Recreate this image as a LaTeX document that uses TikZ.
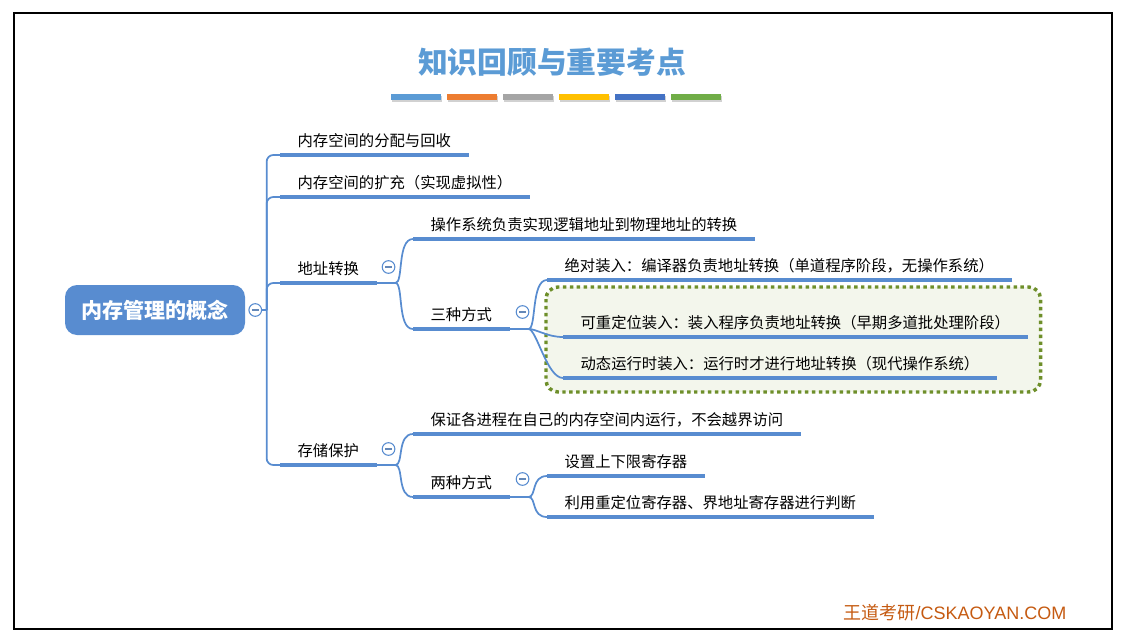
\documentclass[tikz,border=0pt]{standalone}
\usepackage{fontspec}
\setmainfont{Liberation Sans}
\newfontfamily\cjk{Noto Sans CJK SC}
\usetikzlibrary{backgrounds}

\definecolor{mmblue}{RGB}{88,140,208}
\definecolor{titleblue}{RGB}{91,155,213}
\definecolor{dotgreen}{RGB}{110,143,42}
\definecolor{boxfill}{RGB}{243,246,236}
\definecolor{footbrown}{RGB}{197,90,17}
\definecolor{barA}{RGB}{91,155,213}
\definecolor{barB}{RGB}{237,125,49}
\definecolor{barC}{RGB}{165,165,165}
\definecolor{barD}{RGB}{255,192,0}
\definecolor{barE}{RGB}{68,114,196}
\definecolor{barF}{RGB}{112,173,71}

\tikzset{
  topic/.style={anchor=south west, inner xsep=13pt, inner ysep=4pt, text height=9pt, text depth=2.5pt, font=\cjk\fontsize{11.5}{14}\selectfont},
  rootbox/.style={fill=mmblue, text=white, rounded corners=9pt, minimum width=135pt, minimum height=37.5pt, font=\cjk\bfseries\fontsize{15.8}{18}\selectfont},
  uline/.style={draw=mmblue, line width=3pt},
  conn/.style={draw=mmblue, line width=1.3pt},
  foldbtn/.style={circle, draw=mmblue, fill=white, line width=0.8pt, minimum size=9.5pt, inner sep=0pt,
    path picture={\draw[mmblue!70!gray, line width=0.8pt] ([xshift=-2.5pt]path picture bounding box.center) -- ([xshift=2.5pt]path picture bounding box.center);}},
  groupbox/.style={draw=dotgreen, fill=boxfill, line width=2.6pt, dash pattern=on 2.6pt off 2.6pt, rounded corners=9pt}
}

\begin{document}
\begin{tikzpicture}[x=0.75pt, y=-0.75pt]
\useasboundingbox (0,0) rectangle (1128,639);
\draw[line width=1.5pt] (14,13) rectangle (1112,629);

% title and colour bars
\node[font=\cjk\bfseries\fontsize{22.3}{26}\selectfont, text=titleblue] (title) at (552,62) {知识回顾与重要考点};
\foreach \c [count=\i from 0] in {barA,barB,barC,barD,barE,barF}{
  \fill[black!18] (392+56*\i,96) rectangle (442+56*\i,102);
  \fill[\c] (391+56*\i,94) rectangle (441+56*\i,100);
}

% root
\node[rootbox] (root) at (155,310) {内存管理的概念};

% first level
\node[topic] (t1) at (280,155) {内存空间的分配与回收};
\node[topic] (t2) at (280,197) {内存空间的扩充（实现虚拟性）};
\node[topic] (t3) at (280,283) {地址转换};
\node[topic] (t4) at (280,465) {存储保护};

% address translation
\node[topic] (t5) at (413,239) {操作系统负责实现逻辑地址到物理地址的转换};
\node[topic] (t6) at (413,329) {三种方式};
\node[topic] (t7) at (547,280) {绝对装入：编译器负责地址转换（单道程序阶段，无操作系统）};
\node[topic] (t8) at (563,337) {可重定位装入：装入程序负责地址转换（早期多道批处理阶段）};
\node[topic] (t9) at (563,378) {动态运行时装入：运行时才进行地址转换（现代操作系统）};

% protection
\node[topic] (t10) at (413,434) {保证各进程在自己的内存空间内运行，不会越界访问};
\node[topic] (t11) at (413,497) {两种方式};
\node[topic] (t12) at (547,476) {设置上下限寄存器};
\node[topic] (t13) at (547,517) {利用重定位寄存器、界地址寄存器进行判断};

% fold buttons
\node[foldbtn] (c0) at ([shift={(10,0)}]root.east) {};
\node[foldbtn] (c3) at ([shift={(12,-16)}]t3.south east) {};
\node[foldbtn] (c4) at ([shift={(12,-16)}]t4.south east) {};
\node[foldbtn] (c6) at ([shift={(13,-17)}]t6.south east) {};
\node[foldbtn] (c11) at ([shift={(13,-18)}]t11.south east) {};

\begin{scope}[on background layer]
\draw[groupbox] ([shift={(-17,-50)}]t8.south west) rectangle ([shift={(13,55)}]t8.south east);
\end{scope}

\foreach \n in {t1,t2,t3,t4,t5,t6,t7,t8,t9,t10,t11,t12,t13}
  \draw[uline] (\n.south west) -- (\n.south east);

% connectors
\coordinate (trunk) at ([shift={(4.5,0)}]c0.east);
\draw[conn] (c0) -- (trunk);
\foreach \n in {t1,t2,t3,t4}
  \draw[conn, rounded corners=5pt] (trunk) |- (\n.south west);

\coordinate (f3) at ([shift={(19,0)}]t3.south east);
\coordinate (f4) at ([shift={(19,0)}]t4.south east);
\coordinate (f6) at ([shift={(19,0)}]t6.south east);
\coordinate (f11) at ([shift={(19,0)}]t11.south east);
\draw[conn] (t3.south east) -- (f3);
\draw[conn] (t4.south east) -- (f4);
\draw[conn] (t6.south east) -- (f6);
\draw[conn] (t11.south east) -- (f11);
\foreach \n in {t5,t6}
  \draw[conn] (f3) .. controls +(8,0) and +(-16,0) .. (\n.south west);
\foreach \n in {t7,t8,t9}
  \draw[conn] (f6) .. controls +(8,0) and +(-16,0) .. (\n.south west);
\foreach \n in {t10,t11}
  \draw[conn] (f4) .. controls +(8,0) and +(-16,0) .. (\n.south west);
\foreach \n in {t12,t13}
  \draw[conn] (f11) .. controls +(8,0) and +(-16,0) .. (\n.south west);

\node[text=footbrown, font=\fontsize{13.5}{16}\selectfont] (foot) at (955,613) {{\cjk 王道考研}/CSKAOYAN.COM};
\end{tikzpicture}
\end{document}
